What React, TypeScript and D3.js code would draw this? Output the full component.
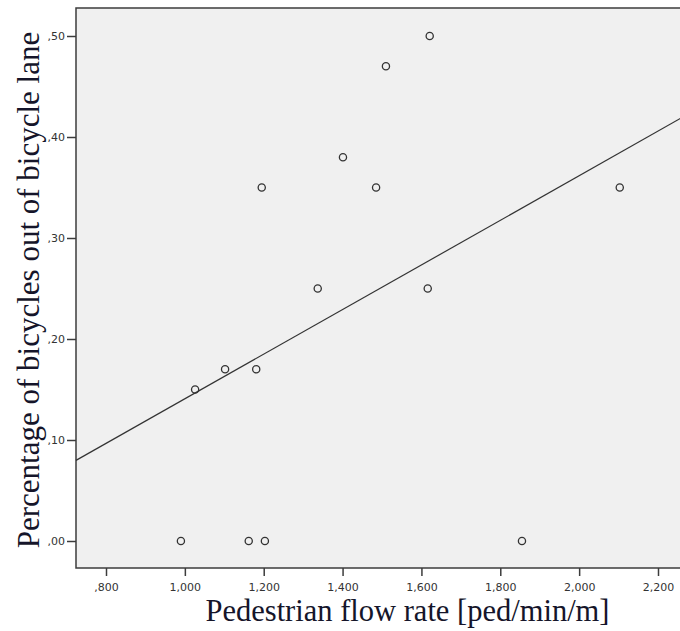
import React, { useEffect, useRef } from 'react';
import * as d3 from 'd3';

// pedestrian flow rate (ped/min/m) and share of bicycles out of the lane
const flowRate = [0.99, 1.026, 1.102, 1.181, 1.195, 1.162, 1.203, 1.337, 1.401, 1.485, 1.51, 1.621, 1.616, 1.855, 2.103];
const outOfLane = [0, 0.15, 0.17, 0.17, 0.35, 0, 0, 0.25, 0.38, 0.35, 0.47, 0.5, 0.25, 0, 0.35];
const xTicks = [0.8, 1.0, 1.2, 1.4, 1.6, 1.8, 2.0, 2.2];
const yTicks = [0, 0.1, 0.2, 0.3, 0.4, 0.5];

// SPSS style labels: comma as decimal sign, no leading zero
const fmtX = (v: number) => {
  const s = v.toFixed(3).replace('.', ',');
  return s.startsWith('0') ? s.slice(1) : s;
};
const fmtY = (v: number) => v.toFixed(2).replace('.', ',').replace(/^0/, '');

const App = () => {
  const ref = useRef<SVGSVGElement>(null);

  useEffect(() => {
    const svg = d3.select(ref.current);
    svg.selectAll('*').remove();

    const left = 76, top = 8, right = 682, bottom = 568;

    const x = d3.scaleLinear().domain([0.8, 2.2]).range([106, 658]);
    const y = d3.scaleLinear().domain([0, 0.5]).range([541, 36]);

    // plot area
    svg.append('rect')
      .attr('x', left).attr('y', top)
      .attr('width', right - left).attr('height', bottom - top)
      .attr('fill', '#f0f0f0')
      .attr('stroke', '#3c3c3c')
      .attr('stroke-width', 1.5);

    // axes
    const yAxis = svg.append('g')
      .attr('transform', 'translate(' + left + ',0)')
      .call(d3.axisLeft(y).tickValues(yTicks).tickFormat((d) => fmtY(+d)).tickSize(9).tickPadding(2));
    const xAxis = svg.append('g')
      .attr('transform', 'translate(0,' + bottom + ')')
      .call(d3.axisBottom(x).tickValues(xTicks).tickFormat((d) => fmtX(+d)).tickSize(8).tickPadding(7));
    [xAxis, yAxis].forEach((a) => {
      a.select('.domain').remove();
      a.selectAll('line').attr('stroke', '#3c3c3c').attr('stroke-width', 1.5);
      a.selectAll('text')
        .attr('fill', '#333')
        .attr('font-family', 'DejaVu Sans, Verdana, sans-serif')
        .attr('font-size', 11);
    });

    // least squares fit line
    const mx = d3.mean(flowRate) as number;
    const my = d3.mean(outOfLane) as number;
    let sxy = 0, sxx = 0;
    flowRate.forEach((v, i) => {
      sxy += (v - mx) * (outOfLane[i] - my);
      sxx += (v - mx) * (v - mx);
    });
    const slope = sxy / sxx;
    const icpt = my - slope * mx;
    const x0 = x.invert(left), x1 = x.invert(right - 1);
    const line = d3.line<number>().x((d) => x(d)).y((d) => y(icpt + slope * d));
    svg.append('path')
      .datum([x0, x1])
      .attr('d', line)
      .attr('fill', 'none')
      .attr('stroke', '#333')
      .attr('stroke-width', 1.2);

    // points
    svg.append('g')
      .selectAll('circle')
      .data(flowRate)
      .enter()
      .append('circle')
      .attr('cx', (d) => x(d))
      .attr('cy', (d, i) => y(outOfLane[i]))
      .attr('r', 3.6)
      .attr('fill', 'none')
      .attr('stroke', '#333')
      .attr('stroke-width', 1.3);

    // axis titles
    svg.append('text')
      .attr('x', 407.5).attr('y', 621)
      .attr('text-anchor', 'middle')
      .attr('font-family', 'Liberation Serif, Times New Roman, serif')
      .attr('font-size', 30.5)
      .attr('fill', '#15152a')
      .text('Pedestrian flow rate [ped/min/m]');

    svg.append('text')
      .attr('transform', 'translate(39,290) rotate(-90)')
      .attr('text-anchor', 'middle')
      .attr('font-family', 'Liberation Serif, Times New Roman, serif')
      .attr('font-size', 31)
      .attr('fill', '#15152a')
      .text('Percentage of bicycles out of bicycle lane');
  }, []);

  return (
    <svg ref={ref} width={680} height={631}
      style={{ position: 'absolute', left: 0, top: 0, background: '#fff' }} />
  );
};

export default App;
